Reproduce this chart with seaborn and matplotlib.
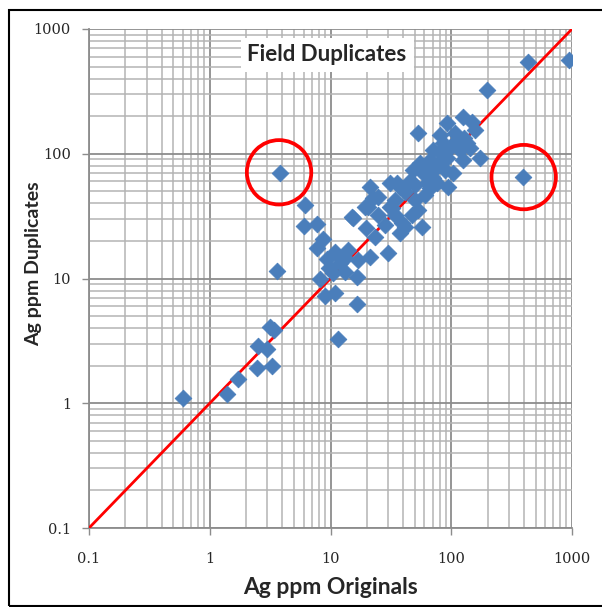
#
# field duplicates scatter, log-log with 1:1 line
#
import numpy as np
import pandas as pd
import matplotlib
matplotlib.use('Agg')
import matplotlib.pyplot as plt
from matplotlib.patches import Rectangle
from matplotlib.ticker import LogLocator, FixedLocator, NullFormatter
import seaborn as sns

# data (Ag ppm)
ag_originals = [0.6, 1.4, 1.7, 2.45, 3.3, 2.5, 3.0, 3.15, 3.4, 11.5,
                3.6, 3.8, 390, 6.2, 6.0, 7.8, 8.6, 7.8, 9.3, 8.2,
                9.0, 10.8, 16.5, 10.8, 13.9, 15.3, 20.3, 19.6, 23.2, 16.8,
                21.1, 10.4, 13.1, 16.5, 29.8, 37.5, 38.9, 41.2, 57, 21.1,
                24.6, 31, 37.5, 31, 62.7, 75.9, 93.6, 52.8, 91.8, 125,
                148, 85, 111, 134, 172, 103, 125, 54.8, 58.1, 48,
                35.4, 22.4, 19.2, 32.2, 15.0, 45.3, 75.9, 197, 430, 940,
                70.3, 80.4, 97.3, 118, 66.3, 91.8, 77.6, 157, 142, 49.9,
                60.3, 66.3, 52.8, 47, 34, 28.1, 24.6, 13.1, 11.9, 9.8,
                80.4, 107, 128, 63.6, 41.2, 34, 49.9, 70.3, 88.4]
ag_duplicates = [1.1, 1.18, 1.56, 1.9, 2.0, 2.9, 2.7, 4.1, 3.9, 3.25,
                 11.4, 70, 65, 38.7, 26.2, 27.2, 20.6, 17.5, 14.3, 10.0,
                 7.3, 7.6, 6.3, 16.2, 16.8, 30.4, 37.2, 25.3, 21.4, 14.0,
                 14.8, 11.0, 11.2, 10.2, 15.9, 23.1, 27.7, 25.8, 25.8, 53.9,
                 44.8, 37.2, 53.9, 58, 58, 58, 53.9, 146, 176, 196,
                 179, 121, 128, 121, 92, 70, 89, 84, 70, 74,
                 58, 44, 37.2, 36.6, 31, 61, 78, 323, 541, 561,
                 107, 103, 111, 107, 89, 92, 84, 154, 111, 42.4,
                 46.5, 52.9, 35.2, 32.1, 32, 26.7, 32, 14.5, 13.2, 12.1,
                 141, 146, 133, 74, 49, 42.4, 56, 63.6, 74]
# 1:1 line
line_x = [0.1, 1000]
line_y = [0.1, 1000]
# outliers circled
outlier_x = [3.75, 398]
outlier_y = [71, 65]
tick_values = [0.1, 1, 10, 100, 1000]
tick_labels = ['0.1', '1', '10', '100', '1000']

df1 = pd.DataFrame({'orig': ag_originals, 'dup': ag_duplicates})
df_line = pd.DataFrame({'x': line_x, 'y': line_y})
df_out = pd.DataFrame({'x': outlier_x, 'y': outlier_y})

sns.set_style('white')
plt.rcParams['font.family'] = ['DejaVu Sans']

fig = plt.figure(figsize=(6.02, 6.07), dpi=100)
ax = fig.add_axes([89/602, 1-528/607, (572-89)/602, (528-29)/607])
ax.set_xscale('log')
ax.set_yscale('log')
ax.set_xlim(0.1, 1000)
ax.set_ylim(0.1, 1000)

# grid
ax.xaxis.set_minor_locator(LogLocator(base=10, subs=np.arange(2, 10)))
ax.yaxis.set_minor_locator(LogLocator(base=10, subs=np.arange(2, 10)))
ax.xaxis.set_minor_formatter(NullFormatter())
ax.yaxis.set_minor_formatter(NullFormatter())
ax.grid(which='major', color='#8c8c8c', linewidth=1.3)
ax.grid(which='minor', color='#b4b4b4', linewidth=1.1)
ax.set_axisbelow(True)

sns.lineplot(data=df_line, x='x', y='y', color='#ff0000', linewidth=2.0, ax=ax, zorder=3)
sns.scatterplot(data=df1, x='orig', y='dup', marker='D', s=72, color='#4a7ebb',
                edgecolor='#4a7ebb', linewidth=0.6, ax=ax, zorder=4)
sns.scatterplot(data=df_out, x='x', y='y', marker='o', s=2150, facecolors='none',
                edgecolor='#ff0000', linewidth=2.7, ax=ax, zorder=5)

ax.xaxis.set_major_locator(FixedLocator(tick_values))
ax.yaxis.set_major_locator(FixedLocator(tick_values))
ax.set_xticklabels(tick_labels, fontfamily='DejaVu Serif', fontsize=10.5)
ax.set_yticklabels(tick_labels, fontfamily='DejaVu Serif', fontsize=10.5)
ax.tick_params(which='major', direction='out', length=5, color='#8c8c8c', width=1,
               bottom=True, left=True)
ax.tick_params(which='minor', length=0)
ax.tick_params(axis='x', pad=12)
ax.tick_params(axis='y', pad=8)

for side in ['top', 'right']:
    ax.spines[side].set_visible(False)
for side in ['left', 'bottom']:
    ax.spines[side].set_color('#8c8c8c')
    ax.spines[side].set_linewidth(1.3)

ax.set_xlabel('Ag ppm Originals', fontfamily='Lato', fontweight='bold', fontsize=16.5, labelpad=8)
ax.set_ylabel('Ag ppm Duplicates', fontfamily='Lato', fontweight='bold', fontsize=14)
ax.yaxis.set_label_coords(-0.097, 0.53)

# title inside plot area, white box
ax.text(0.493, 0.948, 'Field Duplicates', transform=ax.transAxes, ha='center', va='center',
        fontfamily='Lato', fontweight='bold', fontsize=16, zorder=6,
        bbox=dict(facecolor='white', edgecolor='none', pad=5))

# outer frame
fig.patches.append(Rectangle((9/602, 1/607), 0.99, 1-11/607, transform=fig.transFigure,
                             fill=False, edgecolor='black', linewidth=1.5))

plt.savefig('out.png', dpi=100)
plt.close()
